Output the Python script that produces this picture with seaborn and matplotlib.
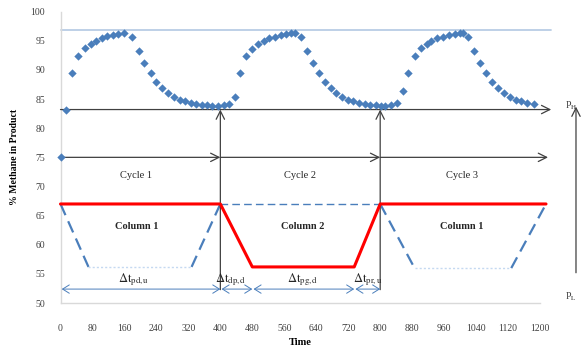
import matplotlib
matplotlib.use("Agg")
import matplotlib.pyplot as plt
import seaborn as sns
import pandas as pd

# ---- data ----
time_pts = [0, 15, 29.5, 44.5, 61, 75.5, 89.5, 103, 117, 130.5, 144.5, 159, 180, 196, 210, 226,
            239, 255, 270, 284, 298, 311, 325.5, 339.5, 353, 366, 380, 394.5,
            410, 421, 436, 450, 465, 480, 495, 510, 522, 537, 551, 564, 578, 588, 601, 618,
            631, 646, 661, 676, 690, 705, 720, 732, 747, 761, 775, 790, 803,
            811, 826, 841, 857, 870, 886, 901, 916, 928, 943, 957, 971, 986, 999, 1007, 1021,
            1036, 1051, 1065, 1080, 1094, 1109, 1124, 1141, 1153, 1168, 1185]
methane = [75.0, 83.1, 89.5, 92.4, 93.7, 94.4, 95.0, 95.4, 95.8, 96.0, 96.2, 96.3, 95.6, 93.3, 91.1, 89.4,
           88.0, 86.9, 86.1, 85.4, 84.9, 84.6, 84.4, 84.2, 84.0, 83.9, 83.8, 83.8,
           83.9, 84.2, 85.3, 89.5, 92.4, 93.6, 94.4, 95.0, 95.4, 95.7, 96.0, 96.2, 96.3, 96.4, 95.6, 93.3,
           91.1, 89.4, 88.0, 86.9, 86.1, 85.4, 84.9, 84.6, 84.4, 84.2, 84.0, 83.9, 83.8,
           83.8, 83.9, 84.3, 86.4, 89.5, 92.4, 93.7, 94.4, 95.0, 95.4, 95.7, 96.0, 96.2, 96.3, 96.4, 95.6,
           93.3, 91.1, 89.4, 88.0, 86.9, 86.1, 85.4, 84.9, 84.6, 84.4, 84.2]

col2_t = [0, 400, 480, 735, 800, 1215]
col2_p = [67.0, 67.0, 56.2, 56.2, 67.0, 67.0]

col1_dash_segments = [([0, 70], [67.0, 56.2]), ([328, 400], [56.2, 67.0]), ([400, 800], [67.0, 67.0]),
                      ([800, 886], [67.0, 56.0]), ([1128, 1215], [56.0, 67.0])]
col1_dot_segments = [([70, 328], [56.2, 56.2]), ([886, 1128], [56.0, 56.0])]

target_level = 96.8
cycle_labels = ["Cycle 1", "Cycle 2", "Cycle 3"]
cycle_x = [190, 600, 1005]
column_labels = ["Column 1", "Column 2", "Column 1"]
column_x = [190, 605, 1005]
dt_labels = [r"$\Delta\mathrm{t}_{\mathrm{pd,u}}$", r"$\Delta\mathrm{t}_{\mathrm{dp,d}}$",
             r"$\Delta\mathrm{t}_{\mathrm{pg,d}}$", r"$\Delta\mathrm{t}_{\mathrm{pr,u}}$"]
dt_x = [182, 425, 606, 770]
dt_bounds = [0, 400, 480, 735, 800]
xticks = list(range(0, 1201, 80))
yticks = list(range(50, 101, 5))

# ---- style ----
sns.set_theme(style="white")
plt.rcParams["font.family"] = ["Liberation Serif", "DejaVu Serif"]
plt.rcParams["mathtext.fontset"] = "stix"

fig = plt.figure(figsize=(5.84, 3.52), dpi=100)
ax = fig.add_axes([0.1036, 0.139, 0.8211, 0.828])

df = pd.DataFrame({"Time": time_pts, "CH4": methane})
sns.scatterplot(data=df, x="Time", y="CH4", marker="D", s=18, color="#4a7ebb",
                edgecolor="#4a7ebb", linewidth=0, ax=ax, zorder=5, clip_on=False)

sns.lineplot(x=col2_t, y=col2_p, sort=False, estimator=None, color="#ff0000", lw=2.2,
             ax=ax, zorder=4)
ax.lines[-1].set_clip_on(False)
for xs, ys in col1_dash_segments:
    lw = 1.0 if ys[0] == ys[1] else 1.6
    sns.lineplot(x=xs, y=ys, sort=False, estimator=None, color="#4a7ebb", lw=lw,
                 ax=ax, zorder=3)
    ax.lines[-1].set_dashes([5.5, 3])
    ax.lines[-1].set_clip_on(False)
for xs, ys in col1_dot_segments:
    sns.lineplot(x=xs, y=ys, sort=False, estimator=None, color="#c5d9f1", lw=1.0,
                 ax=ax, zorder=3)
    ax.lines[-1].set_dashes([1.5, 1.5])
    ax.lines[-1].set_clip_on(False)

ax.plot([0, 1228], [target_level, target_level], color="#b9cde5", lw=1.3, clip_on=False, zorder=2)

ak = dict(arrowstyle="->,head_length=0.5,head_width=0.25", color="#404040", lw=0.9,
          shrinkA=0, shrinkB=0)
ax.annotate("", xy=(1228, 83.2), xytext=(0, 83.2), arrowprops=ak, annotation_clip=False)
for a, b in [(0, 400), (400, 800), (800, 1220)]:
    ax.annotate("", xy=(b, 75), xytext=(a, 75), arrowprops=ak, annotation_clip=False)
for xv in [400, 800]:
    ax.annotate("", xy=(xv, 83.2), xytext=(xv, 52.3), arrowprops=ak, annotation_clip=False)
ax.annotate("", xy=(1290, 83.7), xytext=(1290, 55.2), arrowprops=ak, annotation_clip=False)
ax.text(1262, 83.8, r"P$_{\mathrm{H}}$", fontsize=7, color="#404040", ha="left", va="center")
ax.text(1262, 51.0, r"P$_{\mathrm{L}}$", fontsize=7, color="#404040", ha="left", va="center")

bk = dict(arrowstyle="<->,head_length=0.4,head_width=0.25", color="#4a7ebb", lw=0.7,
          shrinkA=0, shrinkB=0)
for a, b in zip(dt_bounds[:-1], dt_bounds[1:]):
    ax.annotate("", xy=(b, 52.4), xytext=(a + 3, 52.4), arrowprops=bk, annotation_clip=False)
for lab, xv in zip(dt_labels, dt_x):
    ax.text(xv, 54.0, lab, fontsize=9, ha="center", va="center", color="#262626")

for lab, xv in zip(cycle_labels, cycle_x):
    ax.text(xv, 71.8, lab, fontsize=7.5, ha="center", va="center", color="#262626")
for lab, xv in zip(column_labels, column_x):
    ax.text(xv, 63.1, lab, fontsize=7.5, ha="center", va="center", fontweight="bold",
            color="#262626")

ax.set_xlim(0, 1200)
ax.set_ylim(50, 100)
ax.set_xticks(xticks)
ax.set_yticks(yticks)
ax.tick_params(axis="x", labelsize=7, pad=15, length=0, colors="#404040")
ax.tick_params(axis="y", labelsize=7, pad=11, length=0, colors="#404040")
ax.set_xlabel("Time", fontsize=7.5, fontweight="bold", labelpad=4, color="#000000")
ax.set_ylabel("% Methane in Product", fontsize=7, fontweight="bold", labelpad=8, color="#000000")
for s in ["top", "right"]:
    ax.spines[s].set_visible(False)
ax.spines["left"].set_color("#d9d9d9")
ax.spines["bottom"].set_color("#d9d9d9")
ax.spines["left"].set_linewidth(1.0)
ax.spines["bottom"].set_linewidth(1.0)
ax.grid(False)

fig.savefig("out.png", dpi=100)
